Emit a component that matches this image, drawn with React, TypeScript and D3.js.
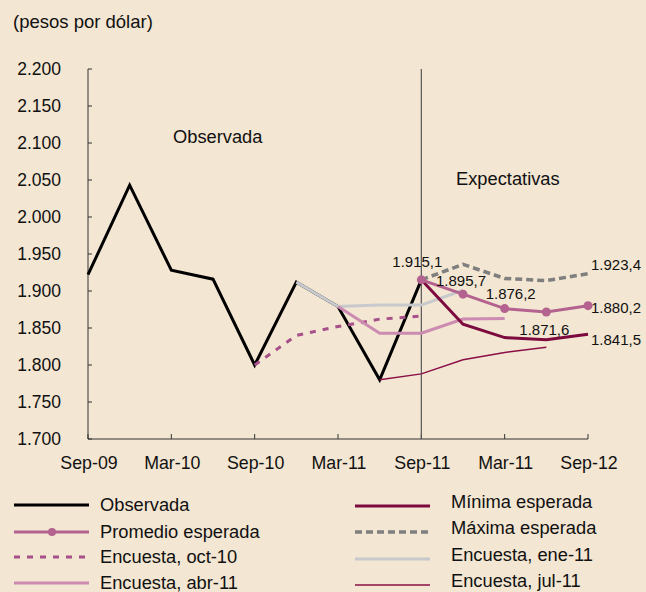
import React from 'react';
import * as d3 from 'd3';

// quarterly periods on the x axis
const quarters = ['sep-09', 'dic-09', 'mar-10', 'jun-10', 'sep-10', 'dic-10', 'mar-11', 'jun-11', 'sep-11', 'dic-11', 'mar-12', 'jun-12', 'sep-12'];
// tick labels as printed in the original (including its "Mar-11" twice)
const tickLabels = ['Sep-09', 'Mar-10', 'Sep-10', 'Mar-11', 'Sep-11', 'Mar-11', 'Sep-12'];
const yTicks = [1700, 1750, 1800, 1850, 1900, 1950, 2000, 2050, 2100, 2150, 2200];

// pesos por dólar
const observada = [1922, 2043, 1928, 1916, 1800, 1912, 1879, 1780, 1915.1];
const encuestaOct10 = [1800, 1840, 1852, 1862, 1866];
const encuestaEne11 = [1912, 1879, 1881, 1881, 1901];
const encuestaAbr11 = [1879, 1843, 1843, 1862, 1863];
const encuestaJul11 = [1780, 1788, 1807, 1817, 1824];
const maximaEsperada = [1915.1, 1936, 1917, 1914, 1923.4];
const minimaEsperada = [1915.1, 1855, 1837, 1834, 1841.5];
const promedioEsperada = [1915.1, 1895.7, 1876.2, 1871.6, 1880.2];

const W = 646;
const H = 592;
const FONT = '"Liberation Sans", Arial, Helvetica, sans-serif';
const BG = '#f3e6d2';

const locale = d3.formatLocale({ decimal: ',', thousands: '.', grouping: [3], currency: ['$', ''] });
const fmtTick = locale.format(',.0f');
const fmtVal = locale.format(',.1f');

type Series = {
  name: string;
  start: string;
  values: number[];
  color: string;
  width: number;
  dash?: string;
  dots?: boolean;
};

const series: Series[] = [
  { name: 'Observada', start: 'sep-09', values: observada, color: '#000000', width: 3 },
  { name: 'Encuesta, oct-10', start: 'sep-10', values: encuestaOct10, color: '#a8508a', width: 3, dash: '6,7' },
  { name: 'Encuesta, ene-11', start: 'dic-10', values: encuestaEne11, color: '#c8c9cc', width: 3 },
  { name: 'Encuesta, abr-11', start: 'mar-11', values: encuestaAbr11, color: '#cc8bb0', width: 3 },
  { name: 'Encuesta, jul-11', start: 'jun-11', values: encuestaJul11, color: '#8a0f47', width: 1.5 },
  { name: 'Máxima esperada', start: 'sep-11', values: maximaEsperada, color: '#7f7f7f', width: 3.5, dash: '7,4' },
  { name: 'Mínima esperada', start: 'sep-11', values: minimaEsperada, color: '#7c0a3e', width: 3 },
  { name: 'Promedio esperada', start: 'sep-11', values: promedioEsperada, color: '#b4628f', width: 3, dots: true },
];

const legendLeft = ['Observada', 'Promedio esperada', 'Encuesta, oct-10', 'Encuesta, abr-11'];
const legendRight = ['Mínima esperada', 'Máxima esperada', 'Encuesta, ene-11', 'Encuesta, jul-11'];

export default function App() {
  const x = d3.scalePoint<string>().domain(quarters).range([88, 588]);
  const y = d3.scaleLinear().domain([1700, 2200]).range([439, 69]);

  const pts = (s: Series) => {
    const i0 = quarters.indexOf(s.start);
    return s.values.map((v, i) => [x(quarters[i0 + i]) as number, y(v)] as [number, number]);
  };
  const line = d3.line<[number, number]>();
  const byName = (n: string) => series.find(s => s.name === n)!;

  const sep11 = x('sep-11') as number;
  const labelX = (q: string) => x(q) as number;

  const legendRow = (name: string, lx: number, tx: number, ly: number, tdy: number) => {
    const s = byName(name);
    return (
      <g key={name}>
        <line x1={lx} x2={lx + 75} y1={ly} y2={ly} stroke={s.color} strokeWidth={s.width}
          strokeDasharray={s.dash} />
        {s.dots && <circle cx={lx + 38} cy={ly} r={4} fill={s.color} />}
        <text x={tx} y={ly + tdy}>{name}</text>
      </g>
    );
  };

  return (
    <div style={{ position: 'fixed', left: 0, top: 0 }}>
      <svg width={W} height={H} style={{ display: 'block', fontFamily: FONT }}>
        <rect width={W} height={H} fill={BG} />
        <text x={13} y={28} fontSize={18.5} fill="#111">(pesos por dólar)</text>

        {/* y axis */}
        <line x1={88} x2={88} y1={y(2200)} y2={y(1700)} stroke="#333" strokeWidth={1} />
        {yTicks.map(t => (
          <g key={t}>
            <line x1={88} x2={92} y1={y(t)} y2={y(t)} stroke="#333" />
            <text x={61} y={y(t) + 6} textAnchor="end" fontSize={17.5} fill="#111">{fmtTick(t)}</text>
          </g>
        ))}

        {/* x axis */}
        <line x1={88} x2={588} y1={y(1700)} y2={y(1700)} stroke="#333" strokeWidth={1} />
        {tickLabels.map((lab, i) => {
          const xx = x(quarters[i * 2]) as number;
          return (
            <g key={i}>
              <line x1={xx} x2={xx} y1={y(1700)} y2={y(1700) - 5} stroke="#333" />
              <text x={xx + 1} y={469} textAnchor="middle" fontSize={17.8} fill="#111">{lab}</text>
            </g>
          );
        })}

        {/* divider between observed and expected */}
        <line x1={sep11} x2={sep11} y1={y(2200)} y2={y(1700)} stroke="#555" strokeWidth={1.2} />
        <text x={173} y={143} fontSize={18.3} fill="#111">Observada</text>
        <text x={456} y={185} fontSize={18.3} fill="#111">Expectativas</text>

        {series.map(s => (
          <g key={s.name}>
            <path d={line(pts(s)) as string} fill="none" stroke={s.color} strokeWidth={s.width}
              strokeDasharray={s.dash} strokeLinejoin="miter" />
            {s.dots && pts(s).map((p, i) => <circle key={i} cx={p[0]} cy={p[1]} r={4.5} fill={s.color} />)}
          </g>
        ))}

        {/* value labels */}
        <g fontSize={15} fill="#111">
          <text x={labelX('sep-11') - 4} y={y(promedioEsperada[0]) - 13} textAnchor="middle">{fmtVal(promedioEsperada[0])}</text>
          <text x={labelX('dic-11') - 27} y={y(promedioEsperada[1]) - 8}>{fmtVal(promedioEsperada[1])}</text>
          <text x={labelX('mar-12') - 19} y={y(promedioEsperada[2]) - 10}>{fmtVal(promedioEsperada[2])}</text>
          <text x={labelX('jun-12') - 27} y={y(minimaEsperada[3]) - 5}>{fmtVal(promedioEsperada[3])}</text>
          <text x={labelX('sep-12') + 3} y={y(maximaEsperada[4]) - 4}>{fmtVal(maximaEsperada[4])}</text>
          <text x={labelX('sep-12') + 3} y={y(promedioEsperada[4]) + 7}>{fmtVal(promedioEsperada[4])}</text>
          <text x={labelX('sep-12') + 3} y={y(minimaEsperada[4]) + 11}>{fmtVal(minimaEsperada[4])}</text>
        </g>

        {/* legend */}
        <g fontSize={18.3} fill="#111">
          {legendLeft.map((n, i) => legendRow(n, 14, 100, [505, 532, 557, 583][i], 6))}
          {legendRight.map((n, i) => legendRow(n, 355, 451, [506, 532, 559, 585][i], 2))}
        </g>
      </svg>
    </div>
  );
}
